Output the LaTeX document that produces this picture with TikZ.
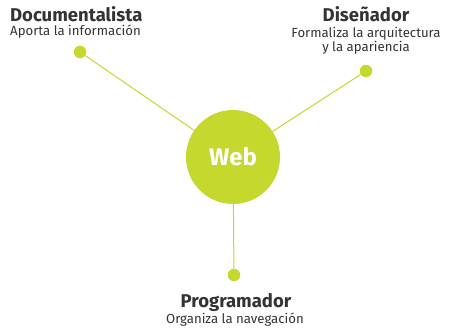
\documentclass[tikz,border=0pt]{standalone}
\usepackage{fontspec}
\setmainfont{Fira Sans}
\definecolor{lime}{HTML}{C4D82E}
\definecolor{textgray}{HTML}{333333}

\begin{document}
\begin{tikzpicture}[x=1pt,y=-1pt]

\tikzset{
hub/.style={circle,fill=lime,minimum size=94pt,inner sep=0pt,text=white,font=\bfseries\fontsize{24}{28}\selectfont},
dot/.style={circle,fill=lime,minimum size=12.5pt,inner sep=0pt},
link/.style={draw=lime,line width=1pt},
title/.style={text=textgray,font=\bfseries\fontsize{18.5}{22}\selectfont,inner sep=0pt,anchor=base},
info/.style={text=textgray,font=\fontsize{13.2}{15}\selectfont,inner sep=0pt,anchor=base}
}

\useasboundingbox (0,0) rectangle (449,332);

\node[dot] (doc-dot) at (80,52) {};
\node[dot] (dis-dot) at (366,71) {};
\node[dot] (prog-dot) at (234,275) {};
\coordinate (center) at (233,157);

\draw[link] (doc-dot)--(center);
\draw[link] (dis-dot)--(center);
\draw[link] (prog-dot)--(center);

\node[hub] (web) at (center) {Web};

\node[title,anchor=base west] (documentalista) at (10,21) {Documentalista};
\node[info,anchor=base west] (aporta) at (10,35) {Aporta la información};

\node[title] (disenador) at (366,21) {Diseñador};
\node[info] (formaliza) at (366,37) {Formaliza la arquitectura};
\node[info] (apariencia) at (366,51) {y la apariencia};

\node[title] (programador) at (236,307) {Programador};
\node[info] (organiza) at (235,323) {Organiza la navegación};

\end{tikzpicture}
\end{document}
